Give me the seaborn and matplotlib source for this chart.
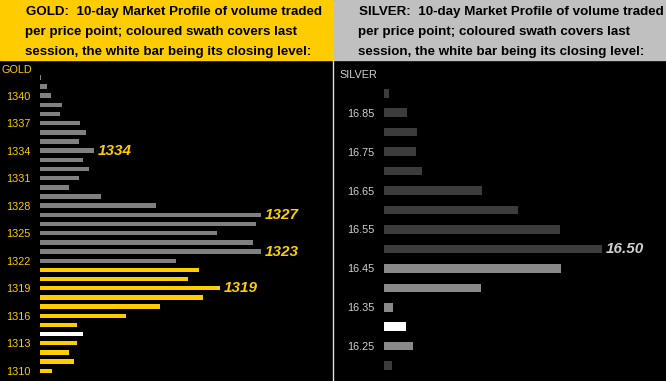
import matplotlib
matplotlib.use("Agg")
import matplotlib.pyplot as plt
import seaborn as sns
import pandas as pd
from matplotlib.patches import Rectangle
from matplotlib.lines import Line2D

# ---------------- data ----------------
gold_prices = list(range(1342, 1309, -1))
gold_volume = [1, 7, 11, 22, 20, 40, 46, 39, 54, 43, 49, 39, 29, 61, 116,
               221, 216, 177, 213, 221, 136,
               159, 148, 180, 163, 120, 86, 37, 43, 37, 29, 34, 12]
gold_kind = (["prior"] * 21 + ["session"] * 7 + ["close"] + ["session"] * 4)
gold_ticks = [1340, 1337, 1334, 1331, 1328, 1325, 1322, 1319, 1316, 1313, 1310]
gold_callouts = [1334, 1327, 1323, 1319]

silver_prices = ["16.90", "16.85", "16.80", "16.75", "16.70", "16.65", "16.60",
                 "16.55", "16.50", "16.45", "16.40", "16.35", "16.30", "16.25", "16.20"]
silver_volume = [5, 23, 33, 32, 38, 98, 134, 176, 218, 177, 97, 9, 22, 29, 8]
silver_kind = (["prior"] * 9 + ["session"] * 3 + ["close"] + ["session"] + ["prior"])
silver_ticks = ["16.85", "16.75", "16.65", "16.55", "16.45", "16.35", "16.25"]
silver_callouts = ["16.50"]

gold_title = ["GOLD:  10-day Market Profile of volume traded",
              "per price point; coloured swath covers last",
              "session, the white bar being its closing level:"]
silver_title = ["SILVER:  10-day Market Profile of volume traded",
                "per price point; coloured swath covers last",
                "session, the white bar being its closing level:"]

# ---------------- styling ----------------
sns.set_style("dark")
plt.rcParams["font.family"] = ["Liberation Sans", "DejaVu Sans"]

W, H = 666, 381
fig = plt.figure(figsize=(W / 100, H / 100), dpi=100, facecolor="black")

def box(x0, y0, x1, y1):
    return [x0 / W, 1 - y1 / H, (x1 - x0) / W, (y1 - y0) / H]

YELLOW = "#ffcc00"
gold_pal = {"prior": "#808080", "session": YELLOW, "close": "#ffffff"}
silver_pal = {"prior": "#3c3c3c", "session": "#898989", "close": "#ffffff"}

# header bands
fig.patches.append(Rectangle((0, 1 - 60 / H), 333 / W, 60 / H,
                             transform=fig.transFigure, color=YELLOW, zorder=0))
fig.patches.append(Rectangle((334 / W, 1 - 60 / H), 332 / W, 60 / H,
                             transform=fig.transFigure, color="#c0c0c0", zorder=0))
fig.lines.append(Line2D([333.5 / W, 333.5 / W], [0, 1 - 60 / H],
                        transform=fig.transFigure, color="#e0e0e0", lw=1))

title_font = dict(family=["Liberation Sans Narrow", "Liberation Sans", "DejaVu Sans"],
                  fontweight="bold", fontsize=9.6, color="black", va="center", ha="left")
for i, (tg, ts) in enumerate(zip(gold_title, silver_title)):
    yy = 1 - (11.5 + 20 * i) / H
    fig.text((26 if i == 0 else 25) / W, yy, tg, **title_font)
    fig.text((359 if i == 0 else 358) / W, yy, ts, **title_font)

def panel(rect, prices, volume, kind, pal, ticks, callouts, xmax, ylim, width,
          tickcolor, callcolor, name, namexy):
    ax = fig.add_axes(rect)
    ax.set_facecolor("black")
    df = pd.DataFrame({"price": [str(p) for p in prices], "volume": volume, "kind": kind})
    order = [str(p) for p in prices]
    sns.barplot(data=df, x="volume", y="price", hue="kind", order=order,
                palette=pal, dodge=False, width=width, legend=False, ax=ax,
                saturation=1, linewidth=0)
    ax.set_xlim(0, xmax)
    ax.set_ylim(*ylim)
    pos = [order.index(str(t)) for t in ticks]
    ax.set_yticks(pos)
    ax.set_yticklabels([str(t) for t in ticks])
    ax.set_xticks([])
    ax.tick_params(axis="y", length=0, pad=7, labelsize=7.8, labelcolor=tickcolor)
    ax.set_xlabel("")
    ax.set_ylabel("")
    ax.grid(False)
    for s in ax.spines.values():
        s.set_visible(False)
    for c in callouts:
        i = order.index(str(c))
        ax.text(volume[i] + 4, i, str(c), color=callcolor, fontsize=11,
                fontweight="bold", fontstyle="italic", va="center", ha="left")
    fig.text(namexy[0] / W, 1 - namexy[1] / H, name, color=tickcolor,
             fontsize=7.8, va="center", ha="left")
    return ax

panel(box(40, 60, 333, 381), gold_prices, gold_volume, gold_kind, gold_pal,
      gold_ticks, gold_callouts, 293, (33.12, -1.89), 0.48,
      YELLOW, YELLOW, "GOLD", (2, 70))

panel(box(384, 60, 666, 381), silver_prices, silver_volume, silver_kind, silver_pal,
      silver_ticks, silver_callouts, 282, (14.79, -1.71), 0.44,
      "#d0d0d0", "#cfcfcf", "SILVER", (339, 75))

fig.savefig("out.png", dpi=100, facecolor="black")
